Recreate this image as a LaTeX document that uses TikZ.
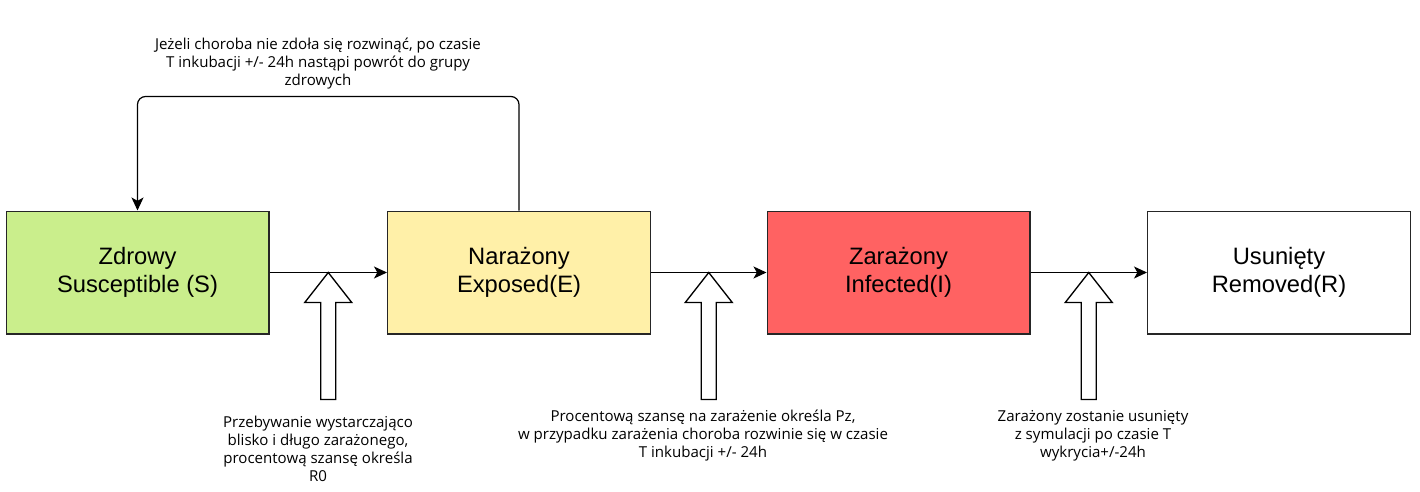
\documentclass[tikz,border=0pt]{standalone}
\usepackage{fontspec}
\setmainfont{Liberation Sans}
\newfontfamily\notefont{Open Sans}
\usetikzlibrary{arrows.meta,calc}

\definecolor{zdrowy}{HTML}{CAEE8C}
\definecolor{narazony}{HTML}{FFF0A8}
\definecolor{zarazony}{HTML}{FF6262}

\begin{document}
\begin{tikzpicture}[x=0.75pt,y=-0.75pt,
    stan/.style={draw=black!85,line width=1pt,minimum width=197pt,minimum height=92pt,
      align=center,font=\fontsize{17.8}{21.5}\selectfont},
    notka/.style={align=center,inner sep=0pt,font=\notefont\fontsize{11.3}{13.5}\selectfont},
    przejscie/.style={line width=0.9pt,-{Stealth[length=9.75pt,width=9pt,inset=2.5pt]}},
    pusta/.style={draw,line width=1pt,fill=white,line join=miter}]
    \useasboundingbox (0,0) rectangle (1420,492);
    \node[stan,fill=zdrowy] (S) at (137.5,272.5) {Zdrowy\\Susceptible (S)};
    \node[stan,fill=narazony] (E) at (519,272.5) {Narażony\\Exposed(E)};
    \node[stan,fill=zarazony] (I) at (898.5,272.5) {Zarażony\\Infected(I)};
    \node[stan] (R) at (1279,272.5) {Usunięty\\Removed(R)};
    \coordinate (t1) at ($(S.east)!.5!(E.west)$);
    \coordinate (t2) at ($(E.east)!.5!(I.west)$);
    \coordinate (t3) at ($(I.east)!.5!(R.west)$);
    \draw[pusta] (t1) -- ++(23.5,30) -- ++(-16,0) -- ++(0,97) -- ++(-15,0) -- ++(0,-97) -- ++(-16,0) -- cycle;
    \draw[pusta] (t2) -- ++(23.5,30) -- ++(-16,0) -- ++(0,97) -- ++(-15,0) -- ++(0,-97) -- ++(-16,0) -- cycle;
    \draw[pusta] (t3) -- ++(23.5,30) -- ++(-16,0) -- ++(0,97) -- ++(-15,0) -- ++(0,-97) -- ++(-16,0) -- cycle;
    \draw[przejscie] (S) -- (E);
    \draw[przejscie] (E) -- (I);
    \draw[przejscie] (I) -- (R);
    \draw[przejscie,rounded corners=6pt] (E.north) -- ++(0,-114) -| (S.north);
    \node[notka] (n0) at (318,64) {Jeżeli choroba nie zdoła się rozwinąć, po czasie\\T inkubacji +/- 24h nastąpi powrót do grupy\\zdrowych};
    \node[notka] (n1) at (318,449) {Przebywanie wystarczająco\\blisko i długo zarażonego,\\procentową szansę określa\\R0};
    \node[notka] (n2) at (703,436) {Procentową szansę na zarażenie określa Pz,\\w przypadku zarażenia choroba rozwinie się w czasie\\T inkubacji +/- 24h};
    \node[notka] (n3) at (1093,436) {Zarażony zostanie usunięty\\z symulacji po czasie T\\wykrycia+/-24h};
\end{tikzpicture}
\end{document}
